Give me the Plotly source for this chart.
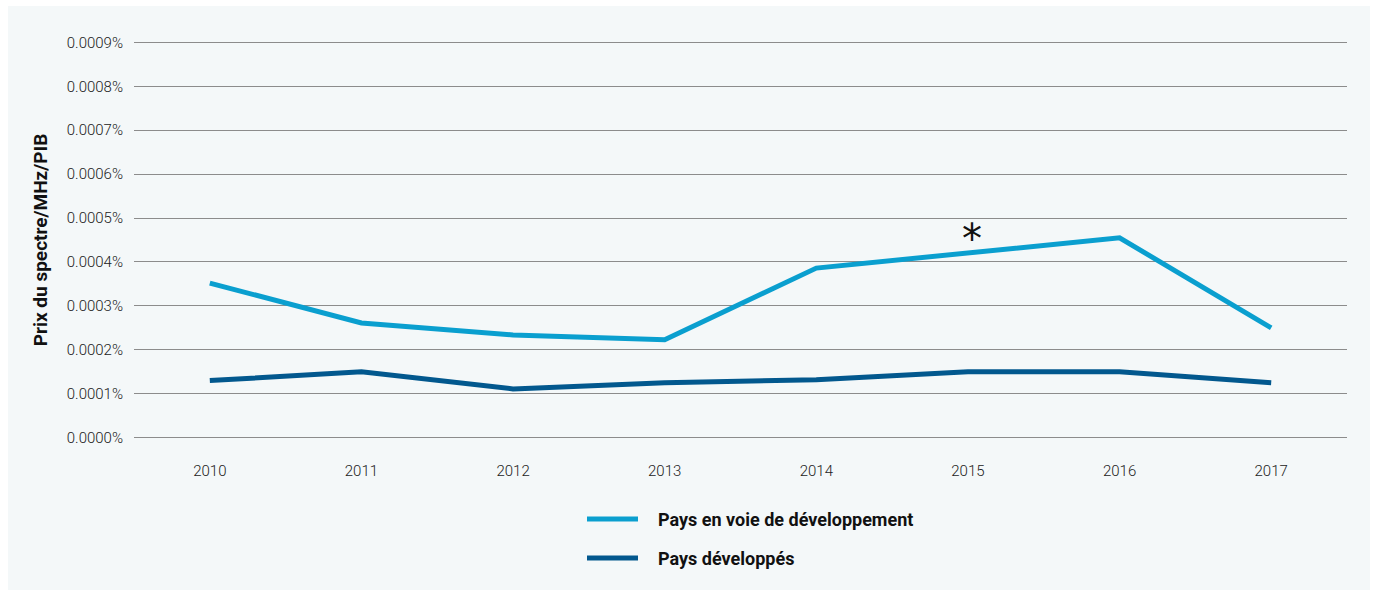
import plotly.graph_objects as go

# Spectrum price per MHz relative to GDP (in %), by year
years = ["2010", "2011", "2012", "2013", "2014", "2015", "2016", "2017"]
developing = [0.000352, 0.000261, 0.000234, 0.000223, 0.000386, 0.000420, 0.000455, 0.000250]
developed = [0.000130, 0.000150, 0.000111, 0.000125, 0.000132, 0.000150, 0.000150, 0.000125]
series_names = ["Pays en voie de développement", "Pays développés"]
series_colors = ["#0a9fcf", "#02588e"]
y_ticks = [i * 0.0001 for i in range(10)]
y_tick_labels = [f"{v:.4f}%" for v in y_ticks]
note_year = "2015"

W, H = 1375, 590
L, R, T, B = 134, 28, 41, 151
pw, ph = W - L - R, H - T - B
pad = 0.000003


def px_x(p):
    return (p - L) / pw


def px_y(p):
    return (H - B - p) / ph


tick_font = dict(family="Roboto, sans-serif", size=15, color="#222222", weight=300)
bold_font = "Roboto, Liberation Sans, sans-serif"

fig = go.Figure()
for name, vals, col in zip(series_names, [developing, developed], series_colors):
    fig.add_trace(go.Scatter(
        x=years, y=vals, mode="lines", name=name,
        line=dict(color=col, width=5), showlegend=False,
    ))

# Light panel behind the chart
shapes = [dict(
    type="rect", xref="paper", yref="paper", layer="below",
    x0=px_x(8), x1=px_x(1370), y0=px_y(590), y1=px_y(6),
    fillcolor="#f4f8f9", line=dict(width=0),
)]

# Legend drawn as line samples with labels
legend_rows = [519, 558]
annotations = []
for name, col, yy in zip(series_names, series_colors, legend_rows):
    shapes.append(dict(
        type="line", xref="paper", yref="paper",
        x0=px_x(587), x1=px_x(638), y0=px_y(yy), y1=px_y(yy),
        line=dict(color=col, width=5),
    ))
    annotations.append(dict(
        x=px_x(656), y=px_y(yy), xref="paper", yref="paper",
        text=f"<b>{name}</b>", showarrow=False, xanchor="left", yanchor="middle",
        font=dict(family=bold_font, size=18, color="#111111"),
    ))

# Asterisk note above the 2015 value of developing countries
annotations.append(dict(
    x=years.index(note_year), y=developing[years.index(note_year)],
    xref="x", yref="y", text="*", showarrow=False,
    xanchor="center", yanchor="middle", yshift=14, xshift=4,
    font=dict(family="DejaVu Sans, sans-serif", size=40, color="#111111"),
))

fig.update_layout(
    width=W, height=H,
    margin=dict(l=L, r=R, t=T, b=B, pad=0),
    paper_bgcolor="white", plot_bgcolor="rgba(0,0,0,0)",
    shapes=shapes,
    annotations=annotations,
    xaxis=dict(
        type="category", range=[-0.5, len(years) - 0.5],
        showgrid=False, zeroline=False, showline=False,
        ticks="", tickfont=tick_font, ticklabelstandoff=21,
    ),
    yaxis=dict(
        range=[-pad, 0.0009 + pad], tickvals=y_ticks, ticktext=y_tick_labels,
        showgrid=True, gridcolor="#8c8c8c", gridwidth=1,
        zeroline=False, showline=False, ticks="",
        tickfont=tick_font, ticklabelstandoff=10,
        title=dict(text="<b>Prix du spectre/MHz/PIB</b>", standoff=14,
                   font=dict(family=bold_font, size=19, color="#111111")),
    ),
)

fig.write_html("out.html")
